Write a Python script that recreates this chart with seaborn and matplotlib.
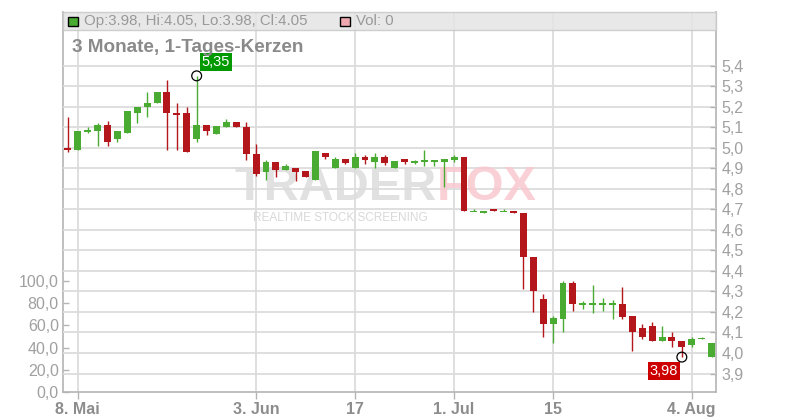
import matplotlib
matplotlib.use("Agg")
import matplotlib.pyplot as plt
import matplotlib.patches as mpatches
import numpy as np
import pandas as pd
import seaborn as sns

# daily candles, 7 May - 6 Aug 2025
dates = pd.bdate_range("2025-05-07", periods=66)
opens = [5.00, 4.99, 5.08, 5.08, 5.11, 5.04, 5.07, 5.17, 5.20, 5.22,
         5.27, 5.17, 5.17, 5.04, 5.11, 5.065, 5.10, 5.125, 5.10, 4.97,
         4.88, 4.93, 4.89, 4.90, 4.885, 4.845, 4.975, 4.90, 4.945, 4.90,
         4.955, 4.93, 4.955, 4.90, 4.945, 4.93, 4.935, 4.935, 4.93, 4.94,
         4.955, 4.69, 4.68, 4.70, 4.69, 4.693, 4.683, 4.47, 4.265, 4.14,
         4.167, 4.34, 4.24, 4.24, 4.24, 4.24, 4.24, 4.18, 4.12, 4.13,
         4.06, 4.08, 4.06, 4.04, 4.07, 3.98]
highs = [5.15, 5.08, 5.10, 5.12, 5.13, 5.08, 5.18, 5.20, 5.27, 5.27,
         5.33, 5.22, 5.20, 5.35, 5.11, 5.105, 5.14, 5.125, 5.125, 5.02,
         4.94, 4.93, 4.92, 4.90, 4.885, 4.985, 4.975, 4.955, 4.945, 4.975,
         4.965, 4.975, 4.965, 4.935, 4.945, 4.94, 4.99, 4.935, 4.945, 4.965,
         4.955, 4.70, 4.693, 4.70, 4.70, 4.693, 4.683, 4.47, 4.285, 4.18,
         4.35, 4.35, 4.255, 4.33, 4.27, 4.26, 4.32, 4.18, 4.14, 4.15,
         4.13, 4.10, 4.06, 4.08, 4.08, 4.05]
lows = [4.98, 4.99, 5.07, 5.01, 5.01, 5.03, 5.07, 5.12, 5.15, 5.22,
        4.99, 4.99, 4.98, 5.03, 5.06, 5.065, 5.10, 5.10, 4.94, 4.86,
        4.845, 4.855, 4.89, 4.84, 4.855, 4.845, 4.945, 4.90, 4.92, 4.90,
        4.92, 4.90, 4.915, 4.90, 4.92, 4.92, 4.91, 4.91, 4.81, 4.93,
        4.69, 4.69, 4.68, 4.69, 4.69, 4.68, 4.31, 4.20, 4.08, 4.05,
        4.10, 4.205, 4.215, 4.195, 4.205, 4.165, 4.167, 4.01, 4.07, 4.06,
        4.06, 4.03, 3.98, 4.03, 4.07, 3.98]
closes = [4.99, 5.08, 5.085, 5.11, 5.03, 5.08, 5.18, 5.20, 5.22, 5.27,
          5.17, 5.16, 4.98, 5.11, 5.08, 5.105, 5.125, 5.10, 4.97, 4.87,
          4.93, 4.89, 4.91, 4.88, 4.855, 4.985, 4.955, 4.945, 4.925, 4.955,
          4.94, 4.955, 4.925, 4.935, 4.93, 4.93, 4.935, 4.935, 4.945, 4.955,
          4.69, 4.69, 4.693, 4.69, 4.69, 4.68, 4.47, 4.30, 4.14, 4.17,
          4.34, 4.24, 4.24, 4.24, 4.24, 4.24, 4.177, 4.10, 4.08, 4.06,
          4.08, 4.06, 4.03, 4.07, 4.07, 4.05]
volumes = [0] * 66

tick_dates = ["2025-05-08", "2025-06-03", "2025-06-17", "2025-07-01",
              "2025-07-15", "2025-08-04"]
tick_labels = ["8. Mai", "3. Jun", "17", "1. Jul", "15", "4. Aug"]
price_ticks = [3.9, 4.0, 4.1, 4.2, 4.3, 4.4, 4.5, 4.6, 4.7, 4.8,
               4.9, 5.0, 5.1, 5.2, 5.3, 5.4]
vol_ticks = [0, 20, 40, 60, 80, 100]

GREEN = "#49ab31"
RED = "#b3161b"
GRID = "#dcdcdc"
SPINE = "#b4b4b4"
LABEL = "#a0a0a0"

sns.set_style("white")
plt.rcParams["font.family"] = ["Liberation Sans", "DejaVu Sans"]

fig = plt.figure(figsize=(8, 4.2), dpi=100)
ax = fig.add_axes([63 / 800, 28 / 420, 653 / 800, 380 / 420])
ax2 = ax.twinx()

# volume (all zero) on the left scale
n = len(dates)
x = np.arange(n)
vdf = pd.DataFrame({"idx": x, "vol": volumes})
sns.barplot(data=vdf, x="idx", y="vol", native_scale=True, color="#f0a8b0",
            ax=ax, width=0.7)
ax.set_xlabel("")
ax.set_ylabel("")

# candles on the right scale
o = np.array(opens)
h = np.array(highs)
l = np.array(lows)
c = np.array(closes)
colors = np.where(c >= o, GREEN, RED)
ax2.vlines(x, l, h, colors=colors, lw=1.0, zorder=3)
body = np.abs(c - o)
minh = 0.008
extra = np.clip(minh - body, 0, None)
ax2.bar(x, body + extra, bottom=np.minimum(o, c) - extra / 2, width=0.7,
        color=colors, linewidth=0, zorder=4)

ax.set_xlim(-0.5, 65.45)
ax.set_ylim(0, 342)
ax2.set_ylim(3.81, 5.661)

# ticks and grid
pos = [dates.get_loc(pd.Timestamp(d)) for d in tick_dates]
ax.set_xticks(pos)
ax.set_xticklabels(tick_labels, fontsize=11.5, fontweight="bold", color="#8c8c8c")
ax.tick_params(axis="x", bottom=True, direction="out", length=5, width=1,
               color=SPINE, pad=2)
ax.grid(axis="x", color=GRID, lw=1.3)
ax.grid(axis="y", visible=False)

ax.set_yticks(vol_ticks)
ax.set_yticklabels([f"{v:.1f}".replace(".", ",") for v in vol_ticks])
ax.tick_params(axis="y", left=True, direction="in", length=4, width=1,
               color=SPINE, labelsize=11.5, labelcolor=LABEL, pad=3)

ax2.set_yticks(price_ticks)
ax2.set_yticklabels([f"{v:.1f}".replace(".", ",") for v in price_ticks])
ax2.tick_params(axis="y", right=True, direction="in", length=4, width=1,
                color=SPINE, labelsize=11.5, labelcolor=LABEL, pad=4)
ax2.grid(axis="y", color=GRID, lw=1.3)
ax2.set_axisbelow(True)

for s in ["top"]:
    ax.spines[s].set_visible(False)
for s in ["left", "bottom", "right"]:
    ax.spines[s].set_color(SPINE)
    ax.spines[s].set_linewidth(1.2)
for s in ax2.spines.values():
    s.set_visible(False)

# watermark
ax2.text(437 / 800, 1 - 188 / 420, "TRADER", transform=fig.transFigure,
         ha="right", va="center", fontsize=35, fontweight="bold",
         color="#dcdcdc", alpha=0.85, zorder=1)
ax2.text(437 / 800, 1 - 188 / 420, "FOX", transform=fig.transFigure,
         ha="left", va="center", fontsize=35, fontweight="bold",
         color="#f9c8cf", alpha=0.85, zorder=1)
ax2.text(340 / 800, 1 - 218 / 420, "REALTIME STOCK SCREENING",
         transform=fig.transFigure, ha="center", va="center", fontsize=8.5,
         color="#d8d8d8", zorder=1)

# high / low markers
hi = int(np.argmax(h))
lo = int(np.argmin(l))
ax2.scatter([hi, lo], [h[hi], l[lo]], s=50, facecolors="none",
            edgecolors="black", linewidths=0.9, zorder=6)
ax2.annotate(f"{h[hi]:.2f}".replace(".", ","), xy=(hi, h[hi]),
             xytext=(5, 7), textcoords="offset pixels", ha="left", va="bottom",
             fontsize=10.5, color="white", zorder=7,
             bbox=dict(boxstyle="square,pad=0.12", fc="#009a00", ec="none"))
ax2.annotate(f"{l[lo]:.2f}".replace(".", ","), xy=(lo, l[lo]),
             xytext=(-4, -7), textcoords="offset pixels", ha="right", va="top",
             fontsize=10.5, color="white", zorder=7,
             bbox=dict(boxstyle="square,pad=0.12", fc="#cc0000", ec="none"))

# header bar
fig.add_artist(mpatches.Rectangle((63 / 800, 1 - 30 / 420), 653 / 800, 18 / 420,
                                  transform=fig.transFigure, fc="#e4e4e4",
                                  ec="#c8c8c8", lw=1, alpha=0.85))
fig.add_artist(mpatches.Rectangle((68 / 800, 1 - 26 / 420), 10 / 800, 9 / 420,
                                  transform=fig.transFigure, fc=GREEN,
                                  ec="black", lw=1))
fig.add_artist(mpatches.Rectangle((340 / 800, 1 - 26 / 420), 10 / 800, 9 / 420,
                                  transform=fig.transFigure, fc="#f0a8b0",
                                  ec="black", lw=1))
last = n - 1
fig.text(84 / 800, 1 - 21 / 420,
         f"Op:{o[last]:.2f}, Hi:{h[last]:.2f}, Lo:{l[last]:.2f}, Cl:{c[last]:.2f}",
         fontsize=10.8, color="#999999", va="center")
fig.text(356 / 800, 1 - 21 / 420, f"Vol: {volumes[last]}", fontsize=10.8,
         color="#999999", va="center")
fig.text(72 / 800, 1 - 47 / 420, "3 Monate, 1-Tages-Kerzen", fontsize=13.6,
         fontweight="bold", color="#8a8a8a", va="center")

plt.savefig("out.png", dpi=100)
